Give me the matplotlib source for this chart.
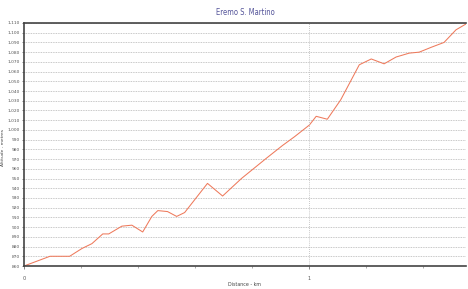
import matplotlib
matplotlib.use("Agg")
import matplotlib.pyplot as plt
from matplotlib.ticker import MultipleLocator, FuncFormatter

distance_km = [0.0, 0.091, 0.16, 0.203, 0.238, 0.276, 0.297, 0.343, 0.378, 0.416,
               0.448, 0.469, 0.503, 0.535, 0.563, 0.643, 0.696, 0.762, 0.85, 0.906,
               0.948, 1.0, 1.024, 1.063, 1.11, 1.175, 1.217, 1.262, 1.304, 1.35,
               1.385, 1.427, 1.472, 1.514, 1.549]
altitude_m = [860, 870, 870, 878, 883, 893, 893, 901, 902, 895,
              911, 917, 916, 911, 915, 945, 932, 950, 971, 984,
              993, 1005, 1014, 1011, 1031, 1067, 1073, 1068, 1075, 1079,
              1080, 1085, 1090, 1103, 1109]

title = "Eremo S. Martino"
xlabel = "Distance - km"
ylabel = "Altitude - metres"

fig = plt.figure(figsize=(4.68, 2.89), dpi=100)
ax = fig.add_axes([24/468, 1-266/289, (466-24)/468, (266-23)/289])

ax.plot(distance_km, altitude_m, color="#ee7a5c", lw=0.75)
ax.set_xlim(0, 1.549)
ax.set_ylim(860, 1110)

ax.yaxis.set_major_locator(MultipleLocator(10))
ax.yaxis.set_major_formatter(FuncFormatter(lambda v, p: f"{int(round(v)):,}"))
ax.xaxis.set_major_locator(MultipleLocator(1))
ax.xaxis.set_minor_locator(MultipleLocator(0.2))
ax.xaxis.set_major_formatter(FuncFormatter(lambda v, p: f"{int(round(v))}"))

ax.grid(axis="y", which="major", linestyle=(0, (1, 1)), color="#b5b5b5", lw=0.6)
ax.axvline(1.0, linestyle=(0, (1, 1.5)), color="#b5b5b5", lw=0.6)

ax.tick_params(axis="y", which="major", labelsize=3.2, length=1.5, width=0.5,
               colors="#555555", pad=1.5)
ax.tick_params(axis="x", which="major", labelsize=3.6, length=2, width=0.5,
               colors="#555555", pad=5)
ax.tick_params(axis="x", which="minor", length=1.5, width=0.5, colors="#888888")

for s in ["top", "bottom", "left"]:
    ax.spines[s].set_color("#444444")
    ax.spines[s].set_linewidth(1.2)
ax.spines["right"].set_visible(False)

ax.set_title(title, fontsize=5.5, color="#55559a", pad=6, fontstretch="condensed")
ax.set_xlabel(xlabel, fontsize=3.4, color="#444444", labelpad=1)
ax.set_ylabel(ylabel, fontsize=3.2, color="#444444")
ax.yaxis.set_label_coords(-(24 - 5) / 442, (266 - 148) / 243)

fig.savefig("out.png", dpi=100)
